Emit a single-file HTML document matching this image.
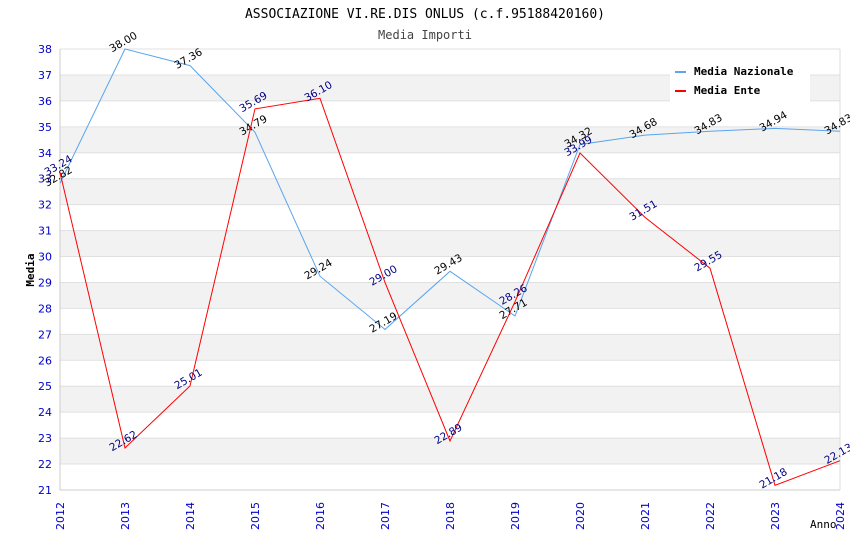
<!DOCTYPE html>
<html><head><meta charset="utf-8"><style>
body{margin:0;background:#fff}
svg{display:block}
.mono{font-family:"DejaVu Sans Mono","Liberation Mono",monospace}
.tick{font-family:"DejaVu Sans","Liberation Sans",sans-serif;font-size:11px;fill:#0000cc}
.val{font-family:"DejaVu Sans","Liberation Sans",sans-serif;font-size:10.5px}
</style></head><body>
<svg id="chart" width="850" height="550">
<text x="425" y="18" text-anchor="middle" class="mono" font-size="13">ASSOCIAZIONE VI.RE.DIS ONLUS (c.f.95188420160)</text>
<text x="425" y="39" text-anchor="middle" class="mono" font-size="12" fill="#444">Media Importi</text>
<g id="grid"></g><g id="axes"></g><g id="series"></g>
<text x="34" y="270" transform="rotate(-90 34 270)" text-anchor="middle" class="mono" font-size="11" font-weight="bold">Media</text>
<text x="810" y="528" class="mono" font-size="11">Anno</text>
<g>
<rect x="670" y="60" width="140" height="42" fill="#fff"/>
<line x1="675" y1="72" x2="686" y2="72" stroke="#5aa5ee" stroke-width="2"/>
<text x="694" y="75" class="mono" font-size="11" font-weight="bold">Media Nazionale</text>
<line x1="675" y1="91" x2="686" y2="91" stroke="#ff0000" stroke-width="2"/>
<text x="694" y="94" class="mono" font-size="11" font-weight="bold">Media Ente</text>
</g>
</svg>
<script>
const years=[2012,2013,2014,2015,2016,2017,2018,2019,2020,2021,2022,2023,2024];
const nazionale=[32.82,38.00,37.36,34.79,29.24,27.19,29.43,27.71,34.32,34.68,34.83,34.94,34.83];
const ente=[33.24,22.62,25.01,35.69,36.10,29.00,22.89,28.26,33.99,31.51,29.55,21.18,22.13];
const yTicks=[21,22,23,24,25,26,27,28,29,30,31,32,33,34,35,36,37,38];
const NS="http://www.w3.org/2000/svg";
const x0=60,x1=840,y0=490,y1=49,ymin=21,ymax=38;
const X=i=>x0+(x1-x0)*i/(years.length-1);
const Y=v=>y0-(v-ymin)*(y0-y1)/(ymax-ymin);
function mk(t,a,p){const e=document.createElementNS(NS,t);for(const k in a)e.setAttribute(k,a[k]);p.appendChild(e);return e;}
const grid=document.getElementById('grid'),axes=document.getElementById('axes'),ser=document.getElementById('series');
for(let k=0;k<yTicks.length-1;k++){
  const v=yTicks[k];
  const r=mk('rect',{x:x0,y:Y(v+1),width:x1-x0,height:Y(v)-Y(v+1),fill:(v%2===0)?'#f2f2f2':'#fff'},grid);
  
  
}
yTicks.forEach(v=>{
  const l=mk('line',{x1:x0,x2:x1,y1:Y(v),y2:Y(v),stroke:'#e0e0e0'},grid);
  
  
  const t=mk('text',{x:x0-8,y:Y(v)+4,'text-anchor':'end',class:'tick'},axes);t.textContent=v;
  
  
});
years.forEach((yr,i)=>{
  const t=mk('text',{x:X(i)+4,y:y0+40,transform:`rotate(-90 ${X(i)+4} ${y0+40})`,class:'tick'},axes);t.textContent=yr;
  
  
});
mk('line',{x1:x0,x2:x0,y1:y1,y2:y0,stroke:'#ccc'},axes);
mk('line',{x1:x0,x2:x1,y1:y0,y2:y0,stroke:'#ccc'},axes);
mk('line',{x1:x1,x2:x1,y1:y1,y2:y0,stroke:'#ddd'},axes);
function draw(vals,color,lab,name){
  const p=mk('polyline',{points:vals.map((v,i)=>X(i)+','+Y(v)).join(' '),fill:'none',stroke:color,'stroke-width':1},ser);
  
  
  vals.forEach((v,i)=>{
    const x=X(i),y=Y(v)-4;
    const t=mk('text',{x:x,y:y,'text-anchor':'middle',class:'val',fill:lab,transform:`rotate(-30 ${x} ${y})`},ser);
    t.textContent=v.toFixed(2);
    
    
  });
}
draw(nazionale,'#5aa5ee','#000','nazionale');
draw(ente,'#ff0000','#000080','ente');
</script>
</body></html>
